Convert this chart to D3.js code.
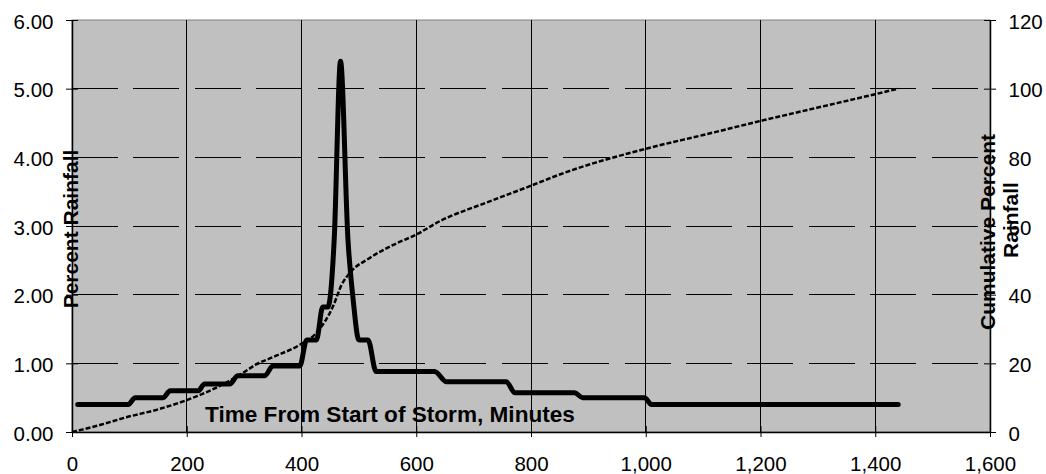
<!DOCTYPE html>
<html>
<head>
<meta charset="utf-8">
<script src="https://cdn.jsdelivr.net/npm/d3@7"></script>
<style>
  html, body { margin: 0; padding: 0; background: #fff; }
  svg { display: block; font-family: "Liberation Sans", Arial, sans-serif; }
</style>
</head>
<body>
<svg id="chart" width="1046" height="474"></svg>
<script>
// percent of rainfall per interval (thick line)
var rainTime = [10, 98, 110, 159, 171, 220, 231, 275, 289, 336, 350, 397, 409, 426, 437, 446, 457, 468, 481, 490, 500, 516, 530, 632, 653, 757, 772, 876, 890, 998, 1010, 1440];
var rainPct = [0.40, 0.40, 0.50, 0.50, 0.60, 0.60, 0.70, 0.70, 0.82, 0.82, 0.96, 0.96, 1.34, 1.34, 1.82, 1.82, 2.80, 5.40, 2.80, 1.93, 1.34, 1.34, 0.88, 0.88, 0.73, 0.73, 0.57, 0.57, 0.50, 0.50, 0.40, 0.40];

// cumulative percent (dashed line, right axis)
var cumTime = [0, 50, 95, 150, 200, 250, 297, 320, 350, 397, 426, 455, 470, 484, 519, 560, 600, 641, 722, 798, 850, 1000, 1100, 1200, 1300, 1400, 1440];
var cumPct = [0, 2.1, 4.3, 6.6, 9.3, 12.8, 17.1, 19.6, 21.8, 25.4, 28.9, 36.6, 42.9, 46.3, 50.7, 54.5, 57.5, 61.4, 66.8, 71.6, 75.0, 82.5, 86.5, 90.6, 94.5, 98.4, 100];

var xTicks = [0, 200, 400, 600, 800, 1000, 1200, 1400, 1600];
var leftTicks = [0, 1, 2, 3, 4, 5, 6];
var rightTicks = [0, 20, 40, 60, 80, 100, 120];

var plot = { left: 72, right: 990, top: 20, bottom: 432 };

var svg = d3.select("#chart");

var x = d3.scaleLinear().domain([0, 1600]).range([plot.left, plot.right]);
var yL = d3.scaleLinear().domain([0, 6]).range([plot.bottom, plot.top]);
var yR = d3.scaleLinear().domain([0, 120]).range([plot.bottom, plot.top]);

// grey plot area
svg.append("rect")
  .attr("x", plot.left)
  .attr("y", plot.top)
  .attr("width", plot.right - plot.left)
  .attr("height", plot.bottom - plot.top)
  .attr("fill", "#c0c0c0")
  .attr("stroke", "#808080")
  .attr("stroke-width", 1);

// titles sit under the gridlines
svg.append("text")
  .attr("x", 205)
  .attr("y", 422)
  .attr("font-size", 22.6)
  .attr("font-weight", "bold")
  .text("Time From Start of Storm, Minutes");

svg.append("text")
  .attr("transform", "translate(78,229) rotate(-90)")
  .attr("text-anchor", "middle")
  .attr("font-size", 21)
  .attr("font-weight", "bold")
  .text("Percent Rainfall");

svg.append("text")
  .attr("transform", "translate(995,232) rotate(-90)")
  .attr("text-anchor", "middle")
  .attr("font-size", 21)
  .attr("font-weight", "bold")
  .text("Cumulative Percent");

svg.append("text")
  .attr("transform", "translate(1018,220) rotate(-90)")
  .attr("text-anchor", "middle")
  .attr("font-size", 21)
  .attr("font-weight", "bold")
  .text("Rainfall");

// gridlines
var grid = svg.append("g").attr("class", "grid").attr("shape-rendering", "crispEdges");
grid.selectAll("line.v")
  .data(xTicks.filter(function (d) { return d > 0 && d < 1600; }))
  .enter()
  .append("line")
  .attr("class", "v")
  .attr("x1", function (d) { return x(d); })
  .attr("x2", function (d) { return x(d); })
  .attr("y1", plot.top)
  .attr("y2", plot.bottom)
  .attr("stroke", "#000");

grid.selectAll("line.h")
  .data(leftTicks.filter(function (d) { return d > 0 && d < 6; }))
  .enter()
  .append("line")
  .attr("class", "h")
  .attr("x1", plot.left)
  .attr("x2", plot.right)
  .attr("y1", function (d) { return yL(d); })
  .attr("y2", function (d) { return yL(d); })
  .attr("stroke", "#000")
  .attr("stroke-dasharray", "46,15.4");

// axes
var fontSize = 20.5;

var xAxis = svg.append("g")
  .attr("transform", "translate(0," + plot.bottom + ")")
  .call(d3.axisBottom(x).tickValues(xTicks).tickFormat(d3.format(",")).tickSize(5).tickSizeOuter(0));
xAxis.selectAll(".tick line").attr("y1", -6);
xAxis.selectAll("text").attr("y", 39).attr("dy", 0);

var leftAxis = svg.append("g")
  .attr("transform", "translate(" + plot.left + ",0)")
  .call(d3.axisLeft(yL).tickValues(leftTicks).tickFormat(d3.format(".2f")).tickSize(6).tickSizeOuter(0));
leftAxis.selectAll(".tick line").attr("x1", 6);
leftAxis.selectAll("text").attr("x", -18.5).attr("dy", 8);

var rightAxis = svg.append("g")
  .attr("transform", "translate(" + plot.right + ",0)")
  .call(d3.axisRight(yR).tickValues(rightTicks).tickFormat(d3.format("d")).tickSize(6).tickSizeOuter(0));
rightAxis.selectAll(".tick line").attr("x1", -6);
rightAxis.selectAll("text").attr("x", 18.5).attr("dy", 8);

[xAxis, leftAxis, rightAxis].forEach(function (a) {
  a.attr("font-family", null).attr("font-size", fontSize);
  a.select(".domain").attr("stroke", "#000").attr("stroke-width", 1.5);
  a.selectAll(".tick line").attr("stroke", "#000");
  a.selectAll("text").attr("fill", "#000");
});

// series
var rainLine = d3.line()
  .x(function (d, i) { return x(rainTime[i]); })
  .y(function (d) { return yL(d); })
  .curve(d3.curveMonotoneX);

var cumLine = d3.line()
  .x(function (d, i) { return x(cumTime[i]); })
  .y(function (d) { return yR(d); })
  .curve(d3.curveMonotoneX);

svg.append("path")
  .attr("d", cumLine(cumPct))
  .attr("fill", "none")
  .attr("stroke", "#000")
  .attr("stroke-width", 2.5)
  .attr("stroke-dasharray", "5,2");

svg.append("path")
  .attr("d", rainLine(rainPct))
  .attr("fill", "none")
  .attr("stroke", "#000")
  .attr("stroke-width", 5)
  .attr("stroke-linejoin", "round")
  .attr("stroke-linecap", "round");
</script>
</body>
</html>
